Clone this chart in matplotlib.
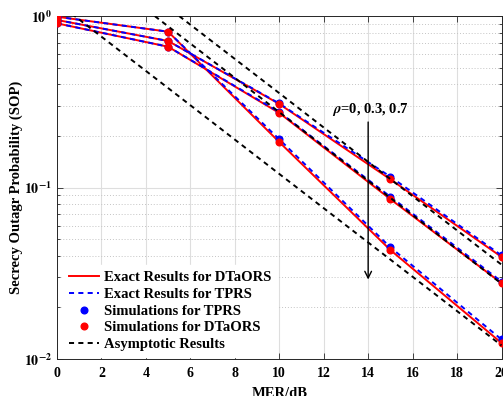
import numpy as np
import matplotlib
matplotlib.use('Agg')
from matplotlib import pyplot as plt
from matplotlib.ticker import LogLocator, NullFormatter

plt.rcParams['font.family'] = ['Liberation Serif', 'DejaVu Serif']
plt.rcParams['font.weight'] = 'bold'
plt.rcParams['mathtext.fontset'] = 'stix'

# MER in dB
mer = [0, 5, 10, 15, 20]

# exact results DTaORS (red), three rho values
dtaors_a = [0.99, 0.81, 0.184, 0.0432, 0.0124]
dtaors_b = [0.948, 0.715, 0.307, 0.1116, 0.0394]
dtaors_c = [0.906, 0.662, 0.272, 0.0855, 0.0277]
# exact results TPRS (blue)
tprs_a = [0.99, 0.81, 0.191, 0.0448, 0.0130]
tprs_b = [0.948, 0.715, 0.309, 0.1156, 0.0402]
tprs_c = [0.906, 0.662, 0.275, 0.0884, 0.0283]
# asymptotic results (black dashed)
asy_a = [1.2, 0.38, 0.12, 0.038, 0.012]
asy_b = [2.75, 0.87, 0.275, 0.087, 0.0275]
asy_c = [3.55, 1.12, 0.355, 0.112, 0.0355]

fig = plt.figure(figsize=(5.03, 3.96), dpi=100)
ax = fig.add_axes([57 / 503, 1 - 359 / 396, 444.5 / 503, 343 / 396])

lw = 1.4
for y in [dtaors_a, dtaors_b, dtaors_c]:
    ax.semilogy(mer, y, '-', color='red', linewidth=lw, zorder=3)
for y in [tprs_a, tprs_b, tprs_c]:
    ax.semilogy(mer, y, '--', color='blue', linewidth=lw, dashes=(2.6, 2.2), zorder=4)
for y in [tprs_a, tprs_b, tprs_c]:
    ax.semilogy(mer, y, 'o', color='blue', markersize=4.8, zorder=5)
for y in [dtaors_a, dtaors_b, dtaors_c]:
    ax.semilogy(mer, y, 'o', color='red', markersize=4.8, zorder=6)
for y in [asy_a, asy_b, asy_c]:
    ax.semilogy(mer, y, '--', color='black', linewidth=lw, dashes=(2.6, 2.2), zorder=7)

# legend proxies
h1, = ax.plot([], [], '-', color='red', linewidth=lw, label='Exact Results for DTaORS')
h2, = ax.plot([], [], '--', color='blue', linewidth=lw, dashes=(2.6, 2.2), label='Exact Results for TPRS')
h3, = ax.plot([], [], 'o', color='blue', markersize=4.8, label='Simulations for TPRS')
h4, = ax.plot([], [], 'o', color='red', markersize=4.8, label='Simulations for DTaORS')
h5, = ax.plot([], [], '--', color='black', linewidth=lw, dashes=(2.6, 2.2), label='Asymptotic Results')
leg = ax.legend(handles=[h1, h2, h3, h4, h5], loc='lower left', fontsize=10.5,
                bbox_to_anchor=(6 / 444.5, 2 / 343),
                frameon=True, fancybox=False, edgecolor='white', framealpha=1,
                labelspacing=0.24, handlelength=2.1, handletextpad=0.3,
                borderaxespad=0, borderpad=0.4)
leg.set_zorder(8)

ax.annotate('', xy=(14, 0.028), xytext=(14, 0.25),
            arrowprops=dict(arrowstyle='->', color='black', lw=1.0,
                            mutation_scale=12), zorder=9)
ax.text(14.1, 0.285, r'$\rho$=0, 0.3, 0.7', ha='center', va='center',
        fontsize=10.5, fontweight='bold', zorder=9)

ax.set_xlim(0, 20)
ax.set_ylim(0.01, 1)
ax.set_xticks(range(0, 21, 2))
ax.set_yticks([0.01, 0.1, 1])
ax.set_yticklabels([r'$\mathbf{10^{-2}}$', r'$\mathbf{10^{-1}}$', r'$\mathbf{10^{0}}$'])
ax.yaxis.set_minor_locator(LogLocator(base=10, subs=np.arange(2, 10)))
ax.yaxis.set_minor_formatter(NullFormatter())
ax.tick_params(which='both', direction='in', top=True, right=True, labelsize=10,
               color='#262626', width=0.6)
ax.tick_params(which='major', length=4)
ax.tick_params(axis='x', which='major', pad=6)
ax.tick_params(axis='y', which='major', pad=3.5)
ax.tick_params(which='minor', length=2.5)

ax.grid(which='major', color='#dedede', linewidth=0.8, linestyle='-')
ax.grid(which='minor', axis='y', color='#c4c4c4', linewidth=0.7, linestyle=(0, (1, 2)))
ax.set_axisbelow(True)
for s in ax.spines.values():
    s.set_color('#262626')
    s.set_linewidth(0.7)

ax.set_xlabel('MER/dB', fontsize=10.5, fontweight='bold', labelpad=4.5)
ax.set_ylabel('Secrecy Outagr Probability (SOP)', fontsize=10.5, fontweight='bold')
ax.yaxis.set_label_coords(-34 / 444.5, 0.5)

plt.savefig('out.png', dpi=100)
